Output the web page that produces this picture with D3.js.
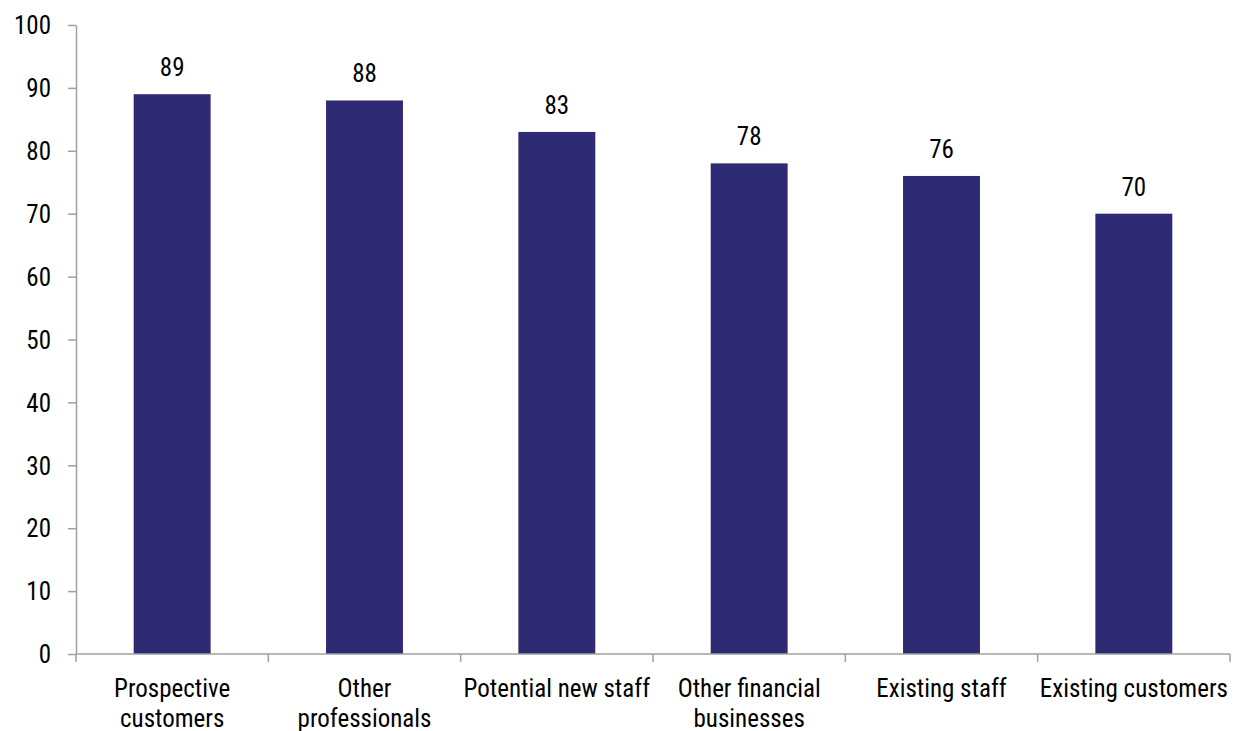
<!DOCTYPE html>
<html>
<head>
<meta charset="utf-8">
<script src="https://cdn.jsdelivr.net/npm/d3@7"></script>
<style>
  body { margin: 0; background: #fff; }
  svg text { font-family: "Liberation Sans Narrow", "Arial Narrow", "Roboto Condensed", sans-serif; fill: #000; }
</style>
</head>
<body>
<svg id="chart" width="1238" height="731"></svg>
<script>
// chart data
const categories = [
    ["Prospective", "customers"],
    ["Other", "professionals"],
    ["Potential new staff"],
    ["Other financial", "businesses"],
    ["Existing staff"],
    ["Existing customers"]
];
const values = [89, 88, 83, 78, 76, 70];
const yTicks = [0, 10, 20, 30, 40, 50, 60, 70, 80, 90, 100];

let width = 1238, height = 731;
let margin = {left: 76, right: 8, top: 25, bottom: 77};
let fontSize = 25;

let svg = d3.select('#chart');

let x = d3.scaleBand()
    .domain(d3.range(values.length))
    .range([margin.left, width - margin.right])
    .paddingInner(0.6)
    .paddingOuter(0.3);

let y = d3.scaleLinear()
    .domain([0, 100])
    .range([height - margin.bottom, margin.top]);

// bars
svg.selectAll('rect.bar')
    .data(values)
    .enter().append('rect')
    .attr('class', 'bar')
    .attr('x', (d, i) => x(i))
    .attr('y', d => y(d))
    .attr('width', x.bandwidth())
    .attr('height', d => y(0) - y(d))
    .attr('fill', '#2e2a73');

// value labels
svg.selectAll('text.val')
    .data(values)
    .enter().append('text')
    .attr('class', 'val')
    .attr('x', (d, i) => x(i) + x.bandwidth() / 2)
    .attr('y', d => y(d) - 18)
    .attr('text-anchor', 'middle')
    .attr('font-size', fontSize)
    .text(d => d);

// y axis
let yAxis = svg.append('g')
    .attr('transform', `translate(${margin.left},0)`)
    .call(d3.axisLeft(y).tickValues(yTicks).tickSize(8).tickPadding(17).tickSizeOuter(0));
yAxis.select('.domain').attr('stroke', '#a0a0a0').attr('stroke-width', 1.5);
yAxis.selectAll('.tick line').attr('stroke', '#a0a0a0').attr('stroke-width', 1.5);
yAxis.selectAll('.tick text').attr('font-size', fontSize).attr('font-family', null).attr('dy', '0.35em');

// x axis line and ticks at band edges
let x0 = margin.left, x1 = width - margin.right;
let xg = svg.append('g');
xg.append('line')
    .attr('x1', x0).attr('x2', x1)
    .attr('y1', y(0)).attr('y2', y(0))
    .attr('stroke', '#a0a0a0').attr('stroke-width', 1.5);
let edges = d3.range(values.length + 1).map(i => x0 + i * (x1 - x0) / values.length);
xg.selectAll('line.tk')
    .data(edges)
    .enter().append('line')
    .attr('class', 'tk')
    .attr('x1', d => d).attr('x2', d => d)
    .attr('y1', y(0)).attr('y2', y(0) + 8)
    .attr('stroke', '#a0a0a0').attr('stroke-width', 1.5);

// category labels
let labels = xg.selectAll('text.cat')
    .data(categories)
    .enter().append('text')
    .attr('class', 'cat')
    .attr('x', (d, i) => x(i) + x.bandwidth() / 2)
    .attr('y', y(0) + 43)
    .attr('text-anchor', 'middle')
    .attr('font-size', fontSize);
labels.selectAll('tspan')
    .data(d => d)
    .enter().append('tspan')
    .attr('x', function() { return this.parentNode.getAttribute('x'); })
    .attr('dy', (d, i) => i === 0 ? 0 : 30)
    .text(d => d);
</script>
</body>
</html>
